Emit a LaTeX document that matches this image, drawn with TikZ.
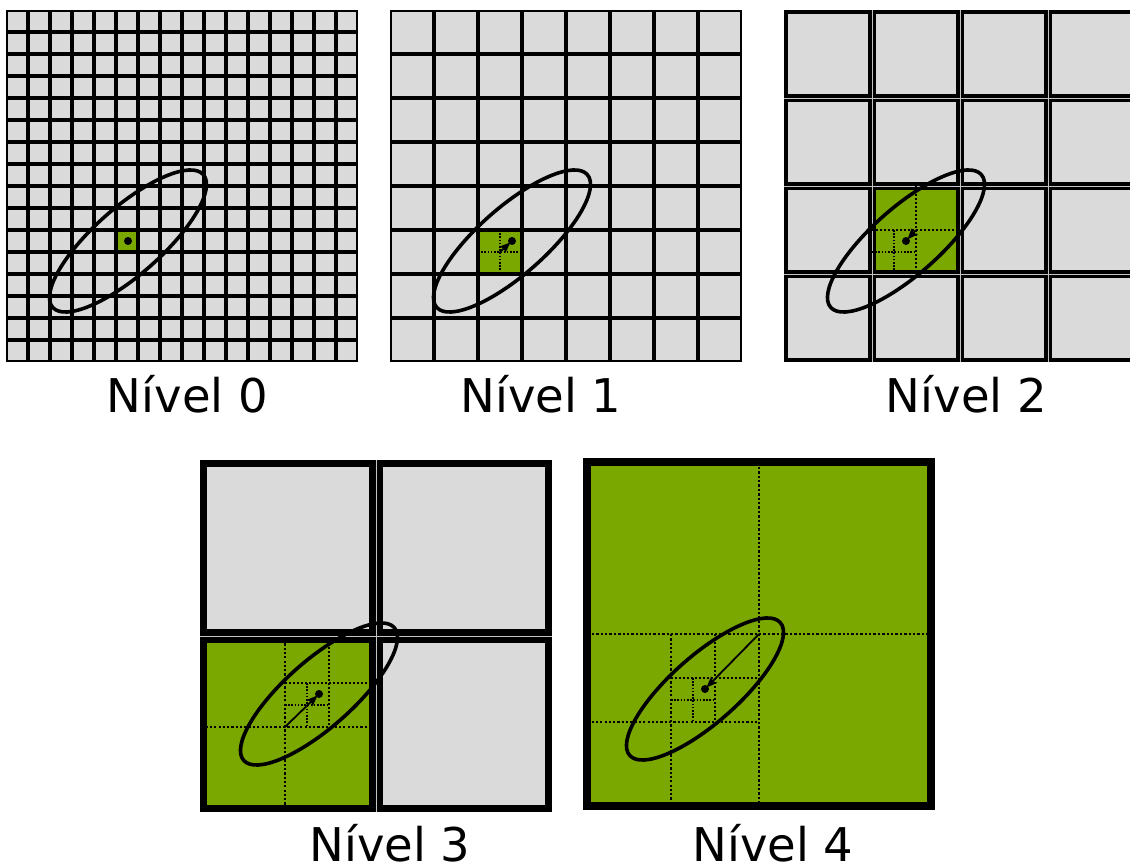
\documentclass[tikz,border=0pt]{standalone}
\usepackage{fontspec}
\setmainfont{DejaVu Sans}
\usetikzlibrary{arrows.meta}
\definecolor{cellgray}{HTML}{DADADA}
\definecolor{leafgreen}{HTML}{7AA700}
\definecolor{seamgray}{HTML}{808080}
\definecolor{seamlight}{HTML}{C4C4C4}
\tikzset{
  ell/.style={line width=3.6pt},
  seam/.style={draw=seamlight, line width=0.9pt},
  dotfour/.style={line width=2.4pt, dash pattern=on 2.3pt off 2.1pt},
  dotthree/.style={line width=2.3pt, dash pattern=on 2.2pt off 2.1pt},
  dottwo/.style={line width=2pt, dash pattern=on 2pt off 2pt},
  dotone/.style={line width=1.5pt, dash pattern=on 1.5pt off 1.7pt},
  vec/.style={line width=1.8pt, -{Stealth[length=11pt,width=8.5pt,inset=2pt]}, shorten >=2pt},
  lbl/.style={font=\fontsize{46.5}{56}\selectfont, anchor=base, inner sep=0pt},
}
\def\cellgap{0.35}
\newcommand\cellsq[5]{%
  \pgfmathsetmacro\cin{#4/2+\cellgap}%
  \filldraw[fill=#5, draw=black, line width=#4pt] ({#1+\cin},{#2+\cin}) rectangle ({#1+#3-\cin},{#2+#3-\cin});%
}
\newcommand\gridpanel[5]{%
  \foreach \i in {0,...,#4}{%
    \foreach \j in {0,...,#4}{%
      \pgfmathsetmacro\cx{#1+\i*#3}%
      \pgfmathsetmacro\cy{#2+\j*#3}%
      \cellsq{\cx}{\cy}{#3}{#5}{cellgray}%
    }%
  }%
}
\newcommand\dcross[4]{%
  \draw[#4] ({#1+#3/2},#2) -- ({#1+#3/2},{#2+#3});%
  \draw[#4] (#1,{#2+#3/2}) -- ({#1+#3},{#2+#3/2});%
}
\begin{document}
\begin{tikzpicture}[x=1pt,y=-1pt]
\useasboundingbox (0,0) rectangle (1130,867);
\clip (0,0) rectangle (1130,867);
\fill[white] (0,0) rectangle (1130,867);

% ---------------- Level 0
\fill[seamgray] (6.3,10.3) rectangle (357.7,361.7);
\gridpanel{6}{10}{22}{15}{1.25}
\cellsq{116}{230}{22}{1.25}{leafgreen}
\begin{scope}[shift={(6,10)}]
  \coordinate (d0) at (122,231);
  \draw[ell, rotate around={41.4:(d0)}] (d0) ellipse [x radius=100.4pt, y radius=33.6pt];
  \fill (d0) circle (4pt);
\end{scope}

% ---------------- Level 1
\fill[seamgray] (390.3,10.3) rectangle (741.7,361.7);
\gridpanel{390}{10}{44}{7}{1.9}
\cellsq{478}{230}{44}{1.9}{leafgreen}
\begin{scope}[shift={(390,10)}]
  \coordinate (d1) at (122,231);
  \coordinate (c1) at (110,242);
  \dcross{88}{220}{44}{dotone}
  \draw[ell, rotate around={41.4:(d1)}] (d1) ellipse [x radius=100.4pt, y radius=33.6pt];
  \draw[vec] (c1) -- (d1);
  \fill (d1) circle (4pt);
\end{scope}

% ---------------- Level 2
\def\cellgap{0.45}
\gridpanel{784}{10}{88}{3}{3.9}
\cellsq{872}{186}{88}{3.9}{leafgreen}
\foreach \k in {872,960,1048}{\draw[seam] (\k,10) -- (\k,362);}
\foreach \k in {98,186,274}{\draw[seam] (784,\k) -- (1130,\k);}
\begin{scope}[shift={(784,10)}]
  \coordinate (d2) at (122,231);
  \coordinate (c2) at (132,220);
  \dcross{88}{176}{88}{dottwo}
  \dcross{88}{220}{44}{dotone}
  \draw[ell, rotate around={41.4:(d2)}] (d2) ellipse [x radius=100.4pt, y radius=33.6pt];
  \draw[vec] (c2) -- (d2);
  \fill (d2) circle (4pt);
\end{scope}

% ---------------- Level 3
\cellsq{200}{460}{176}{6.4}{cellgray}
\cellsq{376}{460}{176}{6.4}{cellgray}
\cellsq{376}{636}{176}{6.4}{cellgray}
\cellsq{200}{636}{176}{6.4}{leafgreen}
\draw[seam] (376,460) -- (376,812);
\draw[seam] (200,636) -- (552,636);
\begin{scope}
  \clip (203,639) rectangle (373,809);
  \begin{scope}[shift={(197,463)}]
    \dcross{0}{176}{176}{dotthree}
    \dcross{88}{176}{88}{dottwo}
    \dcross{88}{220}{44}{dotone}
  \end{scope}
\end{scope}
\begin{scope}[shift={(197,463)}]
  \coordinate (d3) at (122,231);
  \coordinate (c3) at (88,264);
  \draw[ell, rotate around={41.4:(d3)}] (d3) ellipse [x radius=100.4pt, y radius=33.6pt];
  \draw[vec] (c3) -- (d3);
  \fill (d3) circle (4pt);
\end{scope}

% ---------------- Level 4
\cellsq{583}{458}{352}{8}{leafgreen}
\begin{scope}
  \clip (587,462) rectangle (931,806);
  \begin{scope}[shift={(583,458)}]
    \dcross{0}{0}{352}{dotfour}
    \dcross{0}{176}{176}{dotthree}
    \dcross{88}{176}{88}{dottwo}
    \dcross{88}{220}{44}{dotone}
  \end{scope}
\end{scope}
\begin{scope}[shift={(583,458)}]
  \coordinate (d4) at (122,231);
  \coordinate (c4) at (176,176);
  \draw[ell, rotate around={41.4:(d4)}] (d4) ellipse [x radius=100.4pt, y radius=33.6pt];
  \draw[vec] (c4) -- (d4);
  \fill (d4) circle (4pt);
\end{scope}

% ---------------- Labels
\node[lbl] (l0) at (187.5,412) {Nível 0};
\node[lbl] (l1) at (541,412) {Nível 1};
\node[lbl] (l2) at (966.5,412) {Nível 2};
\node[lbl] (l3) at (390,861) {Nível 3};
\node[lbl] (l4) at (773,861) {Nível 4};
\end{tikzpicture}
\end{document}
